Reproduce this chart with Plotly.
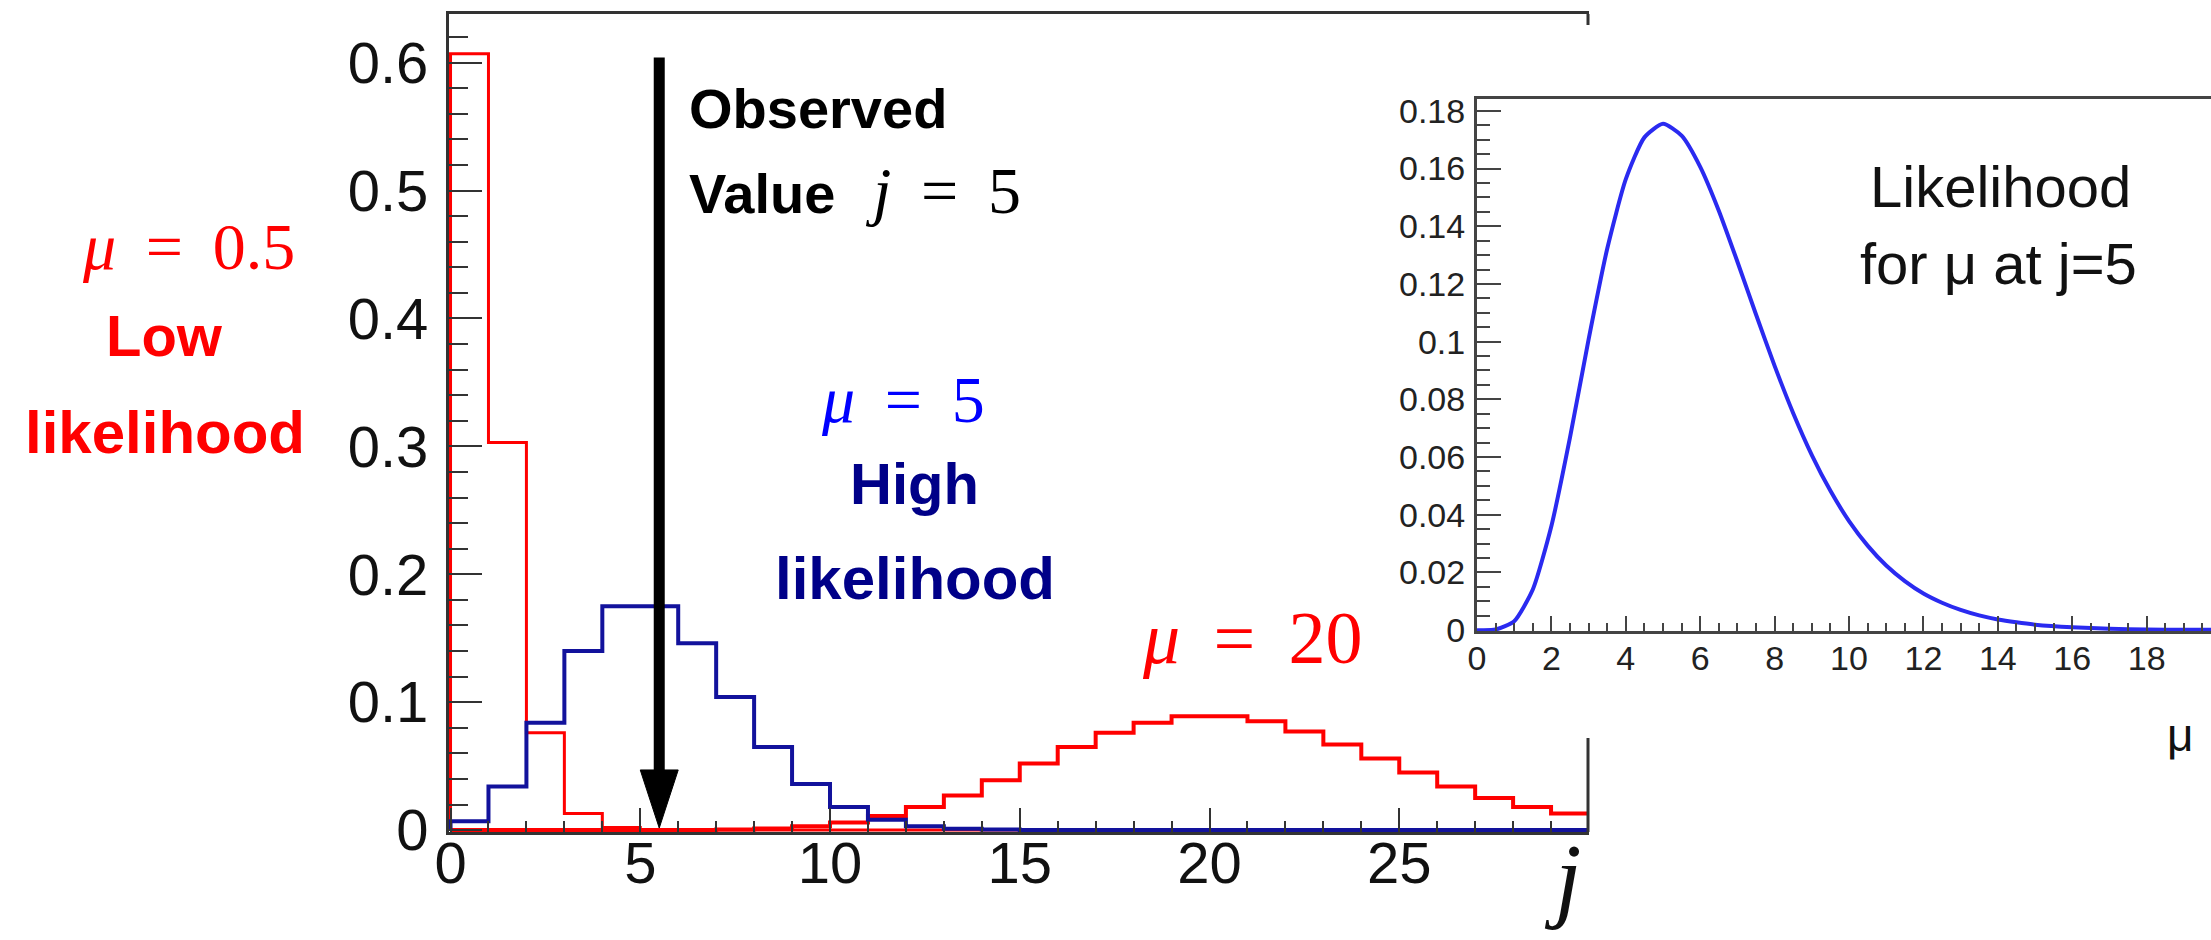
import plotly.graph_objects as go

# ---------------- data ----------------
bin_edges = list(range(0, 31))  # j = 0 .. 30

mu05_vals = [0.607, 0.303, 0.076, 0.013, 0.002, 0.0, 0.0, 0.0, 0.0, 0.0,
             0.0, 0.0, 0.0, 0.0, 0.0, 0.0, 0.0, 0.0, 0.0, 0.0,
             0.0, 0.0, 0.0, 0.0, 0.0, 0.0, 0.0, 0.0, 0.0, 0.0]
mu5_vals = [0.007, 0.034, 0.084, 0.140, 0.175, 0.175, 0.146, 0.104, 0.065, 0.036,
            0.018, 0.008, 0.003, 0.001, 0.0005, 0.0, 0.0, 0.0, 0.0, 0.0,
            0.0, 0.0, 0.0, 0.0, 0.0, 0.0, 0.0, 0.0, 0.0, 0.0]
mu20_vals = [0.0, 0.0, 0.0, 0.0, 0.0, 0.0, 0.0, 0.0005, 0.0013, 0.003,
             0.006, 0.011, 0.018, 0.027, 0.039, 0.052, 0.065, 0.076, 0.084, 0.089,
             0.089, 0.085, 0.077, 0.067, 0.056, 0.045, 0.034, 0.025, 0.018, 0.013]

observed_j = 5

mu_grid = [0, 0.5, 1, 1.5, 2, 2.5, 3, 3.5, 4, 4.5, 5, 5.5, 6, 6.5, 7, 7.5, 8, 8.5,
           9, 9.5, 10, 10.5, 11, 11.5, 12, 12.5, 13, 13.5, 14, 14.5, 15, 16, 17,
           18, 19, 20]
likelihood_vals = [0.0, 0.0002, 0.0031, 0.0141, 0.0361, 0.0668, 0.1008, 0.1322,
                   0.1563, 0.1708, 0.1755, 0.1714, 0.1606, 0.1454, 0.1277, 0.1094,
                   0.0916, 0.0752, 0.0607, 0.0483, 0.0378, 0.0293, 0.0224, 0.0170,
                   0.0127, 0.0095, 0.0070, 0.0051, 0.0037, 0.0027, 0.0019, 0.0010,
                   0.0005, 0.0002, 0.0001, 0.0001]

main_xticks = [0, 5, 10, 15, 20, 25]
inset_xticks = [0, 2, 4, 6, 8, 10, 12, 14, 16, 18]

# ---------------- geometry helpers (pixel -> paper) ----------------
W, H = 2211, 940
def px(x):
    return x / W
def py(y):
    return (H - y) / H

def step_xy(edges, vals):
    xs = [edges[0]] + edges[:-1] + [edges[-1], edges[-1]]
    ys = [0.0] + vals + [vals[-1], 0.0]
    return xs, ys

RED = "#ff0000"
NAVY = "#12129c"
AX = "#333333"

fig = go.Figure()

x, y = step_xy(bin_edges, mu05_vals)
fig.add_trace(go.Scatter(x=x, y=y, mode="lines", line=dict(color=RED, width=3, shape="hv"),
                         xaxis="x", yaxis="y", showlegend=False))
x, y = step_xy(bin_edges, mu20_vals)
fig.add_trace(go.Scatter(x=x, y=y, mode="lines", line=dict(color=RED, width=4, shape="hv"),
                         xaxis="x", yaxis="y", showlegend=False))
x, y = step_xy(bin_edges, mu5_vals)
fig.add_trace(go.Scatter(x=x, y=y, mode="lines", line=dict(color=NAVY, width=4, shape="hv"),
                         xaxis="x", yaxis="y", showlegend=False))

fig.add_trace(go.Scatter(x=mu_grid, y=likelihood_vals, mode="lines",
                         line=dict(color="#2a2af0", width=4, shape="spline", smoothing=0.6),
                         xaxis="x2", yaxis="y2", showlegend=False))

tickfont_main = dict(family="Liberation Sans, Arial, sans-serif", size=58, color="#111111")
tickfont_inset = dict(family="Liberation Sans, Arial, sans-serif", size=34, color="#222222")

fig.update_layout(
    width=W, height=H,
    margin=dict(l=0, r=0, t=0, b=0, autoexpand=False),
    paper_bgcolor="white", plot_bgcolor="white",
    showlegend=False,
    xaxis=dict(domain=[px(449), px(1589)], range=[-0.04, 30], anchor="y", automargin=False,
               showline=True, linecolor=AX, linewidth=3, mirror=True,
               ticks="inside", ticklen=24, tickwidth=2, tickcolor=AX,
               tickvals=main_xticks, tickfont=tickfont_main, ticklabelstandoff=-22,
               minor=dict(dtick=1, ticklen=11, tickwidth=2, tickcolor=AX, ticks="inside"),
               showgrid=False, zeroline=False),
    yaxis=dict(domain=[py(832), py(14)], range=[-0.0015, 0.638], anchor="x", automargin=False,
               showline=True, linecolor=AX, linewidth=3,
               ticks="inside", ticklen=33, tickwidth=2, tickcolor=AX,
               dtick=0.1, tick0=0, tickfont=tickfont_main, ticklabelstandoff=6,
               minor=dict(dtick=0.02, ticklen=19, tickwidth=2, tickcolor=AX, ticks="inside"),
               showgrid=False, zeroline=False),
    xaxis2=dict(domain=[px(1477), 1.0], range=[0, 19.73], anchor="y2", automargin=False,
                showline=True, linecolor="#444444", linewidth=3, mirror=True,
                ticks="inside", ticklen=15, tickwidth=2, tickcolor="#444444",
                tickvals=inset_xticks, tickfont=tickfont_inset, ticklabelstandoff=-5,
                minor=dict(dtick=0.5, ticklen=8, tickwidth=2, tickcolor="#444444", ticks="inside"),
                showgrid=False, zeroline=False),
    yaxis2=dict(domain=[py(631), py(99)], range=[-0.0003, 0.1841], anchor="x2", automargin=False,
                showline=True, linecolor="#444444", linewidth=3,
                ticks="inside", ticklen=24, tickwidth=2, tickcolor="#444444",
                dtick=0.02, tick0=0, tickfont=tickfont_inset, ticklabelstandoff=2,
                minor=dict(dtick=0.005, ticklen=13, tickwidth=2, tickcolor="#444444", ticks="inside"),
                showgrid=False, zeroline=False),
)

# right border of main frame (hidden behind inset in the middle)
for y0, y1 in [(14, 25), (738, 832)]:
    fig.add_shape(type="line", xref="paper", yref="paper",
                  x0=px(1588), x1=px(1588), y0=py(y0), y1=py(y1),
                  line=dict(color=AX, width=3))

# observed-value arrow at bin centre of j = 5
ax_x = observed_j + 0.5
fig.add_shape(type="line", xref="x", yref="y", x0=ax_x, x1=ax_x, y0=0.604, y1=0.045,
              line=dict(color="black", width=11))
fig.add_shape(type="path", xref="x", yref="y",
              path=f"M {ax_x-0.5},0.047 L {ax_x+0.5},0.047 L {ax_x},0.0016 Z",
              fillcolor="black", line=dict(color="black", width=1))

SERIF = "Liberation Serif, Times New Roman, serif"
SANS = "Liberation Sans, Arial, sans-serif"
EQ = "\u2009\u00a0=\u00a0\u2009"  # wide, TeX-like spacing round '='

def ann(text, x, y, size, color, family, xanchor="center"):
    fig.add_annotation(text=text, x=px(x), y=py(y), xref="paper", yref="paper",
                       xanchor=xanchor, yanchor="middle", showarrow=False,
                       font=dict(family=family, size=size, color=color))

ann("<i>μ</i>" + EQ + "0.5", 188, 246, 66, RED, SERIF)
ann("<b>Low</b>", 164, 336, 58, RED, SANS)
ann("<b>likelihood</b>", 165, 432, 60, RED, SANS)

ann("<b>Observed</b>", 687, 108, 56, "black", SANS, xanchor="left")
ann("<b>Value</b>", 687, 193, 56, "black", SANS, xanchor="left")
ann("<i>j</i>" + EQ + "5", 863, 190, 66, "black", SERIF, xanchor="left")

ann("<i>μ</i>" + EQ + "5", 903, 400, 66, "#0000ff", SERIF)
ann("<b>High</b>", 914, 484, 58, "#000088", SANS)
ann("<b>likelihood</b>", 915, 578, 60, "#000088", SANS)

ann("<i>μ</i>" + EQ + "20", 1252, 638, 74, RED, SERIF)

ann("Likelihood", 2000, 186, 58, "#111111", SANS)
ann("for μ at j=5", 1998, 264, 58, "#111111", SANS)
ann("μ", 2180, 735, 46, "#111111", SANS)

ann("<i>j</i>", 1562, 878, 95, "#111111", SERIF)

fig.write_html("out.html")
